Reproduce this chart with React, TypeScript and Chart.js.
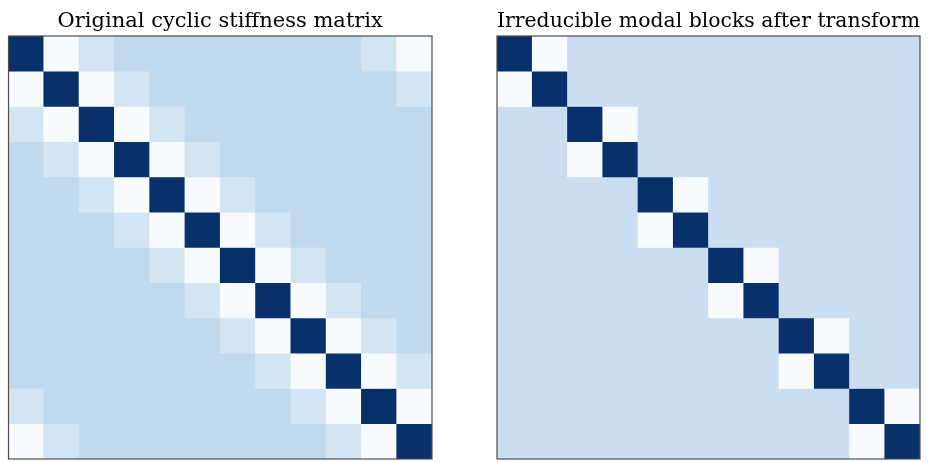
import React, { useEffect, useRef } from "react";
import { Chart, registerables } from "chart.js";

Chart.register(...registerables);

const leftTitle = "Original cyclic stiffness matrix";
const rightTitle = "Irreducible modal blocks after transform";
const indexLabels = ["0", "1", "2", "3", "4", "5", "6", "7", "8", "9", "10", "11"];

const leftMatrix: number[][] = [
  [2, -1, -0.45, -0.2, -0.2, -0.2, -0.2, -0.2, -0.2, -0.2, -0.45, -1],
  [-1, 2, -1, -0.45, -0.2, -0.2, -0.2, -0.2, -0.2, -0.2, -0.2, -0.45],
  [-0.45, -1, 2, -1, -0.45, -0.2, -0.2, -0.2, -0.2, -0.2, -0.2, -0.2],
  [-0.2, -0.45, -1, 2, -1, -0.45, -0.2, -0.2, -0.2, -0.2, -0.2, -0.2],
  [-0.2, -0.2, -0.45, -1, 2, -1, -0.45, -0.2, -0.2, -0.2, -0.2, -0.2],
  [-0.2, -0.2, -0.2, -0.45, -1, 2, -1, -0.45, -0.2, -0.2, -0.2, -0.2],
  [-0.2, -0.2, -0.2, -0.2, -0.45, -1, 2, -1, -0.45, -0.2, -0.2, -0.2],
  [-0.2, -0.2, -0.2, -0.2, -0.2, -0.45, -1, 2, -1, -0.45, -0.2, -0.2],
  [-0.2, -0.2, -0.2, -0.2, -0.2, -0.2, -0.45, -1, 2, -1, -0.45, -0.2],
  [-0.2, -0.2, -0.2, -0.2, -0.2, -0.2, -0.2, -0.45, -1, 2, -1, -0.45],
  [-0.45, -0.2, -0.2, -0.2, -0.2, -0.2, -0.2, -0.2, -0.45, -1, 2, -1],
  [-1, -0.45, -0.2, -0.2, -0.2, -0.2, -0.2, -0.2, -0.2, -0.45, -1, 2],
];

const rightMatrix: number[][] = [
  [3, -1, -0.1, -0.1, -0.1, -0.1, -0.1, -0.1, -0.1, -0.1, -0.1, -0.1],
  [-1, 3, -0.1, -0.1, -0.1, -0.1, -0.1, -0.1, -0.1, -0.1, -0.1, -0.1],
  [-0.1, -0.1, 3, -1, -0.1, -0.1, -0.1, -0.1, -0.1, -0.1, -0.1, -0.1],
  [-0.1, -0.1, -1, 3, -0.1, -0.1, -0.1, -0.1, -0.1, -0.1, -0.1, -0.1],
  [-0.1, -0.1, -0.1, -0.1, 3, -1, -0.1, -0.1, -0.1, -0.1, -0.1, -0.1],
  [-0.1, -0.1, -0.1, -0.1, -1, 3, -0.1, -0.1, -0.1, -0.1, -0.1, -0.1],
  [-0.1, -0.1, -0.1, -0.1, -0.1, -0.1, 3, -1, -0.1, -0.1, -0.1, -0.1],
  [-0.1, -0.1, -0.1, -0.1, -0.1, -0.1, -1, 3, -0.1, -0.1, -0.1, -0.1],
  [-0.1, -0.1, -0.1, -0.1, -0.1, -0.1, -0.1, -0.1, 3, -1, -0.1, -0.1],
  [-0.1, -0.1, -0.1, -0.1, -0.1, -0.1, -0.1, -0.1, -1, 3, -0.1, -0.1],
  [-0.1, -0.1, -0.1, -0.1, -0.1, -0.1, -0.1, -0.1, -0.1, -0.1, 3, -1],
  [-0.1, -0.1, -0.1, -0.1, -0.1, -0.1, -0.1, -0.1, -0.1, -0.1, -1, 3],
];

// matplotlib "Blues" colormap stops
const BLUES: [number, number, number][] = [
  [247, 251, 255],
  [222, 235, 247],
  [198, 219, 239],
  [158, 202, 225],
  [107, 174, 214],
  [66, 146, 198],
  [33, 113, 181],
  [8, 81, 156],
  [8, 48, 107],
];

function blues(t: number): string {
  const c = Math.max(0, Math.min(1, t)) * (BLUES.length - 1);
  const i = Math.min(BLUES.length - 2, Math.floor(c));
  const f = c - i;
  const a = BLUES[i];
  const b = BLUES[i + 1];
  const r = Math.round(a[0] + (b[0] - a[0]) * f);
  const g = Math.round(a[1] + (b[1] - a[1]) * f);
  const bl = Math.round(a[2] + (b[2] - a[2]) * f);
  return `rgb(${r},${g},${bl})`;
}

const framePlugin = {
  id: "frame",
  afterDraw(chart: any) {
    const { ctx, chartArea } = chart;
    ctx.save();
    ctx.strokeStyle = "#4d4d4d";
    ctx.lineWidth = 1.2;
    ctx.strokeRect(
      chartArea.left,
      chartArea.top,
      chartArea.right - chartArea.left,
      chartArea.bottom - chartArea.top
    );
    ctx.restore();
  },
};

type HeatProps = {
  matrix: number[][];
  title: string;
  left: number;
  width: number;
  padLeft: number;
  padRight: number;
};

function Heatmap({ matrix, title, left, width, padLeft, padRight }: HeatProps) {
  const ref = useRef<HTMLCanvasElement | null>(null);
  useEffect(() => {
    if (!ref.current) return;
    const flat = matrix.flat();
    const vmin = Math.min(...flat);
    const vmax = Math.max(...flat);
    const datasets = matrix.map((row, i) => ({
      label: `row ${i}`,
      data: indexLabels.map(() => [i, i + 1]),
      backgroundColor: row.map((v) => blues((v - vmin) / (vmax - vmin))),
      borderWidth: 0,
      barPercentage: 1,
      categoryPercentage: 1,
      grouped: false,
    }));
    const chart = new Chart(ref.current, {
      type: "bar",
      data: { labels: indexLabels, datasets: datasets as any },
      options: {
        responsive: false,
        animation: false,
        layout: { padding: { left: padLeft, right: padRight, top: 0, bottom: 3 } },
        plugins: {
          legend: { display: false },
          tooltip: { enabled: false },
          title: {
            display: true,
            text: title,
            color: "#000",
            font: { family: "DejaVu Serif", size: 21, weight: "normal", lineHeight: 1.2 },
            padding: { top: 8.5, bottom: 2.3 },
          },
        },
        scales: {
          x: { type: "category", display: false, offset: true },
          y: { type: "linear", display: false, min: 0, max: 12, reverse: true },
        },
      },
      plugins: [framePlugin],
    });
    return () => chart.destroy();
  }, [matrix, title, padLeft, padRight]);
  return (
    <canvas
      ref={ref}
      width={width}
      height={462}
      style={{ position: "absolute", left, top: 0, width, height: 462 }}
    />
  );
}

export default function App() {
  return (
    <div
      style={{
        position: "fixed",
        left: 0,
        top: 0,
        width: 933,
        height: 462,
        background: "#fff",
        overflow: "hidden",
      }}
    >
      <Heatmap matrix={leftMatrix} title={leftTitle} left={-16} width={460} padLeft={24.5} padRight={12} />
      <Heatmap matrix={rightMatrix} title={rightTitle} left={484} width={460} padLeft={13} padRight={24} />
    </div>
  );
}
